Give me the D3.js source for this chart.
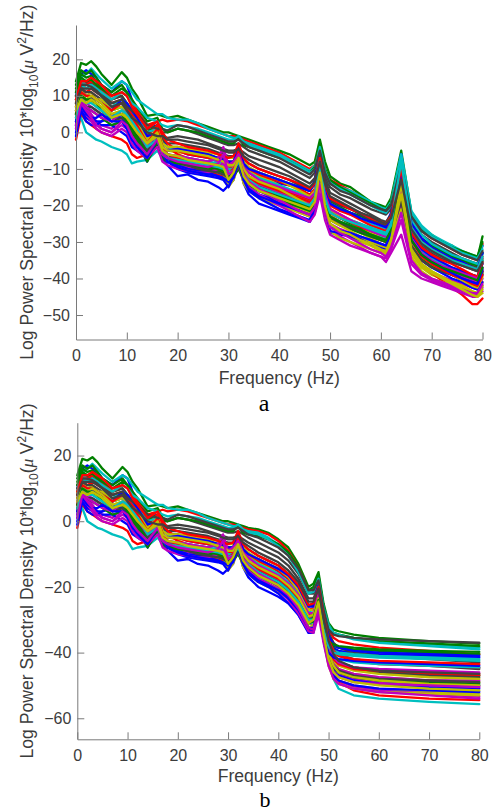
<!DOCTYPE html>
<html><head><meta charset="utf-8">
<script src="https://cdn.jsdelivr.net/npm/d3@7"></script>
<style>body{margin:0;background:#fff}svg{display:block}</style>
</head><body><svg id="c" width="496" height="811"></svg>
<script>
// ---- frequency grids (Hz) ----
const freqLow   = [0,1,2,3,4,5,7,9,10,11,12,14,16,17,18,20,22,24,26,28,29,30,31,32,33,34];
const freqHighA = [36,38,40,42,44,46,47,48,49,50,52,54,56,58,60,61,62,64,66,68,70,72,74,76,78,79,80];
const freqHighB = [36,38,40,42,44,46,47,48,49,50,51,52,55,60,70,80];

// MATLAB classic colour order (b g r c m y k)
const colorOrder = ["#0000ff","#008000","#ff0000","#00bfbf","#bf00bf","#bfbf00","#404040"];

const xTicks  = [0,10,20,30,40,50,60,70,80];
const yTicksA = [-50,-40,-30,-20,-10,0,10,20];
const yTicksB = [-60,-40,-20,0,20];

// ---- channel PSDs, shared 0-34 Hz part (dB) ----
const lowBand = [
[10,16,17,16,15,13,11,14,13,9,6,1,2,-2,-4,-5,-6,-6.5,-7,-8,-8,-9,-9,-5,-9,-11],
[14,19,18.5,19.5,18,16,13,16.5,15,12,10,4.5,5,4.5,4,4.5,3.5,2.5,1.5,0.5,0,0,-0.5,-1,-1.5,-2],
[7,12,13,14,13,11,8,9,8,6,4,1,3,3.5,3,3.5,3,2,1,0,-0.5,-1,-1,-1.5,-2,-2.5],
[8,15,16,17.5,16,14.5,12,14,13,11,9,7,5,5,4,3.5,3.5,2.5,1,0,-0.5,-1,-1.5,-1.5,-2.5,-3],
[3,9,7,5,3,2,1,4,3,0,-2,-5,-1,-5,-6,-7,-7.5,-8,-8,-7,-4.5,-10,-9,-5,-10,-12],
[5,9,8,8.5,7,6,3,4,2,0,-1,-4,-2,-6,-7,-8,-9,-9.5,-10,-10.5,-10,-14,-12,-8,-13,-15],
[9,13,13.5,13,12,11,8,8,6,5,4,1,0,0,0,1,0.5,-0.5,-1.5,-2.5,-3,-3.5,-3.5,-3,-4,-5],
[1,6,4,3,2,2,2,0,-1,-4,-5,-7,-3,-7,-9,-12,-11.5,-13,-13.5,-15,-16,-14.5,-13,-8,-14,-17],
[12,16,15,15.5,14,12,9,10,8,5,3,-2,-1,-6,-7,-7,-7.5,-8.5,-9,-9.5,-10,-11,-11,-9,-12,-13.5],
[-2,5,3,2,1,0,-1,-2,-3,-6,-7,-6,-2,-6,-7,-8,-9,-10,-11,-11.5,-12,-12,-10,-6,-11,-13],
[2,4,0,-1,-2,-2.5,-4,-5,-6,-8.5,-8,-7.5,-5,-7,-7.5,-8.5,-9,-9.5,-10,-11,-11.5,-12,-11.5,-9,-12.5,-14],
[4,8,6,4,3,1,0,2,1,-2,-3,-6,-3,-7,-8,-9,-9.5,-10,-10.5,-9,-7,-12,-11,-8,-12,-14],
[10,12,10,11,9,8,5,6,5,3,2,-2,0,-4,-5,-5.5,-5.5,-6,-6.5,-7,-7.5,-8,-8,-7,-9,-10.5],
[11,14,14,13.5,12.5,11,9,10,8,6,5,2,1,-1,-1.5,-1,-1.5,-2,-3,-4,-4.5,-5,-5,-4.5,-5.5,-6.5],
[2,8,5,4,3,3,4,5,4,1,-1,-6,1,-5,-7,-9,-10,-10.5,-11,-12,-12.5,-13,-11,-6,-12,-15],
[13,17,16,17,15,13,11,13,11,8,6,0,2,-3,-4,-4,-4.5,-5,-6,-7,-7,-8,-8,-6,-9,-10],
[6,12,11,12,11,10,7,8,7,5,3,-1,2,-3,-4,-6,-7,-7.5,-8,-9,-9.5,-10,-9,-5,-10,-12],
[9,14,13,13,12,10,7,9,8,6,4,0,1,-3,-4,-5,-5.5,-6,-7,-8,-8.5,-9,-9,-6.5,-10,-11],
[5,10,8,7,6,5,3,5,4,2,0,-4,0,-5,-6,-7,-8,-8.5,-9,-8,-5,-11,-10,-7,-11,-13],
[8,11,9,9,8,7,4,5,3,1,0,-3,-1,-5,-6,-7,-8,-8.5,-9,-10,-11,-15,-13,-9,-14,-16],
[7,12,11,11,10,9,6,7,6,4,2,-1,-1,-2,-3,-3,-3.5,-4,-4.5,-5.5,-6,-6.5,-6.5,-5.5,-7.5,-8.5],
[-1,6,3,2,2,3,5,4,2,-1,-3,-8,-2,-6,-8,-10,-11,-11.5,-12,-12.5,-13,-15,-12,-7,-13,-16],
[4,9,7,6,5,4,2,3,2,0,-2,-8,-3,-7,-8,-8.5,-9,-9.5,-10,-10.5,-11,-12,-12,-10,-13,-14.5],
[8,13,13,14,13,12,9,11,10,8,6,2,3,-1,-3,-5,-6,-6.5,-7,-7.5,-8,-9,-8,-4,-8,-10],
[6,11,10,10,9,8,6,7,5,3,1,-3,-1,-5,-6,-6.5,-7,-7.5,-8,-8.5,-9,-10,-10,-7.5,-11,-12.5],
[2,7,5,3,1,0,-1,1,0,-3,-5,-7,-4,-8,-9,-10,-10.5,-11,-11,-10,-8,-13,-12,-9,-13,-15],
[9,10,9,10,9,9,6,7,6,4,3,-2,1,-3,-4,-4,-4.5,-5,-5.5,-6,-6.5,-7,-7,-6,-8,-9.5],
[3,8,7,7,6,5,3,4,3,1,-1,-5,-2,-5,-6,-8,-9,-10,-10.5,-11,-11.5,-12.5,-12,-9,-12.5,-14],
[3,10,9,9.5,9,8,6,9,8,6,4,-1,0,-4,-5,-4.5,-5,-5.5,-6,-7,-7.5,-8,-8,-4,-8.5,-10],
[11,15,14,14.5,13,12,10,12,11,9,7,3,4,1,0,1,0.5,0,-1,-2,-2.5,-3,-3,-1.5,-3.5,-4],
[5,11,10,10,9,8,6,8,7,4,2,-3,1,-4,-6,-7,-8,-8.5,-9,-10,-10.5,-11,-10,-5,-10.5,-12.5],
[10,13,12,13,12,11,9,11,10,8,7,4,3,2,1.5,2,1.5,1,0,-1,-1.5,-2,-2,-1,-2.5,-3.5],
[6,9,7,6,5,4,3,6,5,2,0,-3,-1,-5,-6,-6.5,-7,-7.5,-8,-7,-4,-9,-8,-6,-9.5,-11],
[7,10,9,10,9,8,5,6,4,2,1,-3,0,-4,-5,-5,-5.5,-6,-6.5,-7.5,-8,-9,-9,-7,-10,-12],
[10,13,13,12.5,11.5,10,8,9,7,6,5,2,1,1,0.5,2,1.5,0.5,-0.5,-1.5,-2,-2.5,-2.5,-2,-3,-4],
[0,7,5,4,4,5,3,3,1,-2,-4,-7,-2,-6,-8,-9.5,-10.5,-11,-11.5,-12,-12.5,-13.5,-12.5,-8,-13,-15.5],
[5,10,9,9,8,6,4,5,3,1,-1,-6,-2,-6,-7,-8,-8.5,-9,-9.5,-10,-10.5,-11.5,-11,-8,-12,-13.5],
[9,14,14,15,14,13,10,11,10,7,5,1,3,0,-2,-3,-4,-4.5,-5,-6,-6.5,-7,-6.5,-3,-7,-8.5],
[4,9,8,8,7,6,4,6,5,3,1,-4,-2,-6,-7,-7.5,-8,-8.5,-9,-9.5,-10,-11,-10.5,-8,-11.5,-13],
[1,8,6,4,2,1,0,3,2,-1,-3,-6,-2,-6,-7,-8,-8.5,-9,-9.5,-8.5,-6,-11.5,-10.5,-7,-11.5,-13.5],
[6,9,8,9,8,7,4,5,4,2,0,-3,-1,-5,-6,-6.5,-7.5,-8,-8.5,-9,-9.5,-13,-11,-7,-12,-14],
[8,12,12,12,11,10,7,8,6,4,3,0,-1,-1,-2,-2,-2.5,-3,-3.5,-4.5,-5,-5.5,-5.5,-4.5,-6.5,-7.5]
];

// ---- panel a, 36-80 Hz (raw) ----
const highBandA = [
[-12,-13,-14,-14.5,-15,-16,-13,-4,-14,-19,-21,-22,-23,-24,-25,-25,-22,-7,-25,-29,-31,-33,-34,-35,-36,-36,-31],
[-3,-4,-5,-6,-7.5,-9,-8,-2,-8,-12,-14,-15,-17,-19,-20,-20.5,-18,-5,-22,-26,-28,-30,-31,-33,-34,-34.5,-28.5],
[-3.5,-4.5,-5.5,-7,-8.5,-10,-9,-4,-10,-13,-14.5,-16,-17.5,-19.5,-21,-21.5,-19.5,-8,-23,-27,-29,-30.5,-32,-33.5,-34.5,-35,-30.5],
[-4,-5,-6,-7.5,-9,-10.5,-9,-5,-10,-13.5,-15,-16,-17.5,-19,-20.5,-21,-19,-6,-21.5,-25.5,-28,-29.5,-31,-32.5,-33.5,-34,-31],
[-14,-15.5,-17,-18.5,-20,-21.5,-20,-13,-21,-25,-26.5,-27.5,-29,-30.5,-32,-33,-30,-20,-33,-36.5,-38.5,-39.5,-40.5,-41.5,-42.5,-43,-40],
[-17,-18,-19,-20,-21,-22,-20,-12,-21,-26,-27.5,-28.5,-30,-31,-32.5,-33,-30,-15,-33,-37,-39,-40,-41.5,-42.5,-44,-44.5,-42],
[-6,-7,-8,-9.5,-11,-12.5,-11,-6,-12,-15,-17,-18,-19.5,-21,-22,-22.5,-21,-10,-24,-28,-30,-31.5,-33,-34.5,-35.5,-36,-33],
[-19.5,-20.5,-21.5,-22.5,-23.5,-24.5,-22,-15,-23,-27.5,-28,-28.5,-29.5,-30,-31,-31.5,-28,-16,-30,-34,-36,-37.5,-39,-40.5,-42,-42.5,-39],
[-15,-16,-17,-18,-19,-20,-18,-9,-18,-22,-23.5,-25,-26,-27,-28.5,-29,-26,-12,-29,-33,-35,-36,-37,-38,-39,-39.5,-35],
[-15.5,-16.5,-17.5,-18.5,-19.5,-20.5,-19,-11,-19,-24,-25,-26,-27.5,-28.5,-29.5,-30,-27,-16,-31,-36,-38.5,-40.5,-42.5,-44.5,-47,-47,-45.5],
[-16,-17,-18,-19,-20,-21,-19.5,-8,-19,-23,-24.5,-25.5,-26.5,-27.5,-28.5,-29,-26.5,-11,-28,-32.5,-34.5,-36,-37.5,-39,-40,-40.5,-37],
[-16,-17.5,-19,-20.5,-22,-23,-21,-16,-23,-27,-28.5,-30,-31.5,-33,-34,-35.5,-33,-28,-38,-40,-41,-42,-43,-44,-45,-45,-43.5],
[-12,-13,-14.5,-16,-17.5,-19,-17,-11,-18,-22.5,-24.5,-26,-27.5,-29,-30.5,-31,-28,-18,-32,-36,-38,-39.5,-41,-42,-43.5,-44,-41],
[-7.5,-8.5,-9.5,-11,-12.5,-14,-12.5,-7,-13,-16.5,-18,-19.5,-21,-22.5,-24,-24.5,-22.5,-12,-26,-29.5,-31.5,-33,-34.5,-35.5,-36.5,-37,-34.5],
[-17,-18,-19.5,-20.5,-21.5,-23,-20,-10,-20,-26,-27,-27.5,-28.5,-29.5,-30.5,-31,-27,-9,-28,-32,-34,-35.5,-37,-38,-39,-39.5,-36],
[-11,-12,-13,-14,-15,-16,-14,-6,-15,-19,-20.5,-22,-23,-24,-25,-25.5,-23,-9,-25,-29,-31,-32.5,-34,-35,-36,-36.5,-33],
[-13.5,-14.5,-15.5,-16.5,-17.5,-18.5,-17,-10,-17,-21,-22.5,-24,-25,-26.5,-27.5,-28,-26,-14,-29,-33.5,-36,-37.5,-39,-40.5,-41.5,-42,-38],
[-12.5,-13.5,-14.5,-15.5,-16.5,-17.5,-15.5,-7,-16,-19.5,-21,-22.5,-23.5,-25,-26,-26.5,-24,-7,-24,-28,-30.5,-32,-33.5,-34.5,-35.5,-36,-33.5],
[-14.5,-15.5,-16.5,-17.5,-18.5,-19.5,-18,-12,-19,-23,-24.5,-26,-27,-28.5,-29.5,-30,-27.5,-17,-30,-34,-36,-37.5,-38.5,-39.5,-40.5,-41,-38],
[-18,-19,-20,-21,-22,-23,-21,-14,-22,-27,-29,-30,-31,-32,-33,-33.5,-30,-21,-34,-38,-40,-41,-42,-43,-44.5,-45,-44],
[-10,-11,-12,-13,-14.5,-15.5,-14,-8,-14.5,-18.5,-20,-21,-22.5,-24,-25,-25.5,-24,-13,-27,-31,-33,-34.5,-35.5,-36.5,-37.5,-38,-36],
[-18,-19.5,-21,-22,-23,-24,-21,-12,-21,-27,-27.5,-28,-29,-30.5,-31.5,-32,-28.5,-13,-31,-35,-37,-38.5,-40,-41,-42.5,-43,-41],
[-16,-17,-18.5,-19.5,-20.5,-21.5,-19.5,-11,-19.5,-24,-25.5,-26.5,-27.5,-28.5,-29.5,-30,-27,-14,-30.5,-34.5,-36.5,-38,-39,-40,-41.5,-42,-38.5],
[-11.5,-12.5,-13.5,-14.5,-15.5,-17,-15.5,-8,-16,-20,-21.5,-22.5,-24,-25.5,-26.5,-27,-25,-11,-27.5,-31.5,-33.5,-35,-36,-37.5,-39,-39.5,-35.5],
[-14,-15,-16,-17,-18,-19,-17,-9,-17.5,-21.5,-23,-24,-25,-26,-27,-27.5,-25,-10,-26.5,-30.5,-32.5,-34,-35,-36,-37,-37.5,-35],
[-17,-18.5,-20,-21.5,-23,-24.5,-22.5,-17,-24,-28,-29.5,-31,-32,-33,-34,-34.5,-32,-24,-36,-39,-40.5,-41.5,-42.5,-43.5,-44.5,-44.5,-42.5],
[-11,-12,-13,-14.5,-16,-17.5,-16,-10,-17,-21,-23,-24.5,-26,-27.5,-29,-29.5,-27,-15,-30,-34,-36,-37.5,-39,-40.5,-42,-42.5,-39.5],
[-15,-16,-17,-18,-19,-20,-18.5,-13,-19.5,-23.5,-25,-26,-27,-28,-29,-29.5,-27.5,-19,-31,-35,-37,-38,-39,-40,-41,-41.5,-38],
[-11,-12,-13,-14,-15,-16,-14,-5,-15,-19.5,-21,-22,-23.5,-24.5,-25.5,-26,-23,-6,-25,-29,-31.5,-33,-34.5,-35.5,-37,-37.5,-33],
[-5,-6,-7,-8,-9.5,-11,-9.5,-3,-10,-13,-15,-16.5,-18,-19.5,-21,-21.5,-19.5,-7,-22.5,-26.5,-28.5,-30,-31.5,-32.5,-33.5,-34,-30],
[-14,-15,-16,-17,-18,-19,-17.5,-11,-18,-22,-23.5,-24.5,-26,-27,-28,-28.5,-26.5,-15,-29.5,-34,-36,-37.5,-39,-40,-41.5,-42,-39],
[-4.5,-5.5,-6.5,-8,-9.5,-11,-10,-4,-10.5,-14,-15.5,-17,-18.5,-20,-21.5,-22,-20,-6,-22,-26,-28.5,-30,-31.5,-33,-34,-34.5,-32],
[-13,-14,-15,-16,-17,-18,-16.5,-10,-17,-21,-22.5,-24,-25.5,-27,-28,-28.5,-26,-15,-29,-33,-35,-36.5,-37.5,-38.5,-39.5,-40,-37],
[-13.5,-14.5,-15.5,-17,-18.5,-20,-18,-12,-19,-24,-25.5,-27,-28.5,-30,-31,-31.5,-29,-17,-32,-36,-38,-39.5,-41,-42,-43.5,-44,-42],
[-5,-6,-7,-8.5,-10,-11.5,-10,-5,-11,-14,-16,-17,-18.5,-20,-21,-21.5,-20,-9,-23,-27,-29,-30.5,-32,-33.5,-34.5,-35,-32.5],
[-17.5,-18.5,-19.5,-20.5,-21.5,-22.5,-20.5,-12,-21,-26,-27,-27.5,-28.5,-29.5,-30.5,-31,-27.5,-11,-29.5,-33.5,-35.5,-37,-38.5,-40,-41,-41.5,-37.5],
[-15,-16,-17.5,-18.5,-19.5,-20.5,-19,-10,-19,-23,-24.5,-25.5,-26.5,-28,-29,-29.5,-26.5,-13,-29.5,-33.5,-35.5,-37,-38,-39,-40,-40.5,-37],
[-10,-11,-12,-13,-14,-15.5,-14,-7,-14.5,-18,-19.5,-21,-22,-23.5,-24.5,-25,-23,-10,-26,-30,-32,-33.5,-35,-36,-37,-37.5,-34],
[-15,-16,-17,-18,-19,-20,-18,-8,-18,-22,-23.5,-24.5,-25.5,-26.5,-27.5,-28,-25.5,-8,-26,-30,-32,-33.5,-35,-36,-37,-37.5,-34],
[-15.5,-17,-18.5,-20,-21.5,-22.5,-20.5,-14,-21.5,-26,-27.5,-29,-30.5,-32,-33,-34,-31.5,-22,-35,-38.5,-40,-41,-42,-43,-44,-44,-41.5],
[-16,-17,-18,-19,-20,-21,-19,-11,-20,-25,-27,-28,-29.5,-30.5,-32,-32.5,-29.5,-14,-32.5,-36.5,-38.5,-40,-41.5,-43,-44.5,-45,-43],
[-9,-10,-11,-12,-13.5,-15,-13.5,-8,-14,-17.5,-19,-20.5,-22,-23,-24.5,-25,-23.5,-13,-26.5,-30.5,-32.5,-34,-35.5,-36.5,-37.5,-38,-35.5]
];

// ---- panel b, 36-80 Hz (filtered) ----
const highBandB = [
[-12.5,-14,-15.5,-17.5,-21,-26,-25,-20,-30,-36,-38.5,-39.5,-40,-40.5,-41,-41.5],
[-2.5,-3.5,-5.5,-8,-13,-20,-19,-15.5,-25,-31,-33,-33.5,-34.5,-35.5,-36.5,-37.3],
[-3,-4,-6,-9,-14,-21,-21,-18,-27,-33,-35.5,-36.5,-37.5,-38.5,-39.5,-40.5],
[-3.5,-5,-7,-10,-15,-21.5,-20.5,-17,-26,-31.5,-34,-34.5,-35.5,-36.5,-37.5,-38.5],
[-14.5,-16,-18,-20.5,-24.5,-31,-31.5,-25,-34,-41,-45,-46.5,-48,-49,-50,-50.5],
[-17.5,-19,-20.5,-22.5,-26,-31.5,-30,-25,-35,-43,-47,-48.5,-50,-51,-52,-52.5],
[-6.5,-8,-9.5,-12,-16,-22,-22,-19,-28,-34,-37,-38.5,-40,-41,-42,-43],
[-20,-21.5,-23,-25,-28.5,-33.5,-33,-27,-36,-43.5,-46,-47,-48.5,-49.5,-50.5,-51],
[-15.5,-17,-18.5,-20.5,-24,-29.5,-28.5,-23,-32,-39,-42,-43,-44.5,-45.5,-46.5,-47],
[-16,-17.5,-19,-21.5,-25,-30.5,-30,-24,-34,-41.5,-46,-49,-51.5,-53,-54,-54.5],
[-16.5,-18,-19.5,-22,-25.5,-31,-31,-26,-35,-43,-48,-51,-53,-54,-55,-55.7],
[-16.5,-18,-20,-23,-27,-33,-33.5,-27,-36,-43,-47,-48.5,-50.5,-51.5,-52.5,-53.5],
[-12.5,-14,-16,-19,-23,-29,-28,-23,-32,-39,-43,-45,-46.5,-47.5,-48.5,-49],
[-8,-9.5,-11,-13.5,-17.5,-23.5,-23.5,-20,-29,-35.5,-39,-40.5,-42,-43,-44,-45],
[-17.5,-19,-21,-23.5,-27,-33,-33,-25.5,-35,-42,-45,-46,-47.5,-48.5,-49.5,-50],
[-11.5,-13,-14.5,-16.5,-20,-26,-25,-20,-29,-35.5,-38,-38.5,-39,-39.5,-40,-40.5],
[-14,-15.5,-17,-19.5,-23,-28.5,-28,-22,-31,-38,-41.5,-43,-44.5,-45.5,-46.5,-47],
[-13,-14.5,-16,-18.5,-22,-27.5,-27,-21.5,-30,-37,-39.5,-40,-40.5,-41,-41.5,-42],
[-15,-16.5,-18,-20.5,-24,-29.5,-29.5,-23.5,-33,-40,-43.5,-45,-46.5,-47.5,-48.5,-48.5],
[-18.5,-20,-21.5,-23.5,-27,-32.5,-31.5,-26,-36,-44,-48,-49.5,-51,-52,-52.5,-53],
[-10.5,-12,-13.5,-16,-19.5,-25.5,-25.5,-21,-30,-37,-41,-43,-45,-46,-47,-47.5],
[-18.5,-20,-22,-25,-28.5,-34,-34,-26,-36,-43,-47,-48.5,-50,-51,-51.5,-52],
[-16.5,-18,-19.5,-22,-25.5,-31,-30.5,-25,-34,-41,-44.5,-46,-47.5,-48.5,-49,-49.5],
[-12,-13.5,-15,-17.5,-21,-27,-26.5,-21,-30,-37,-40,-41,-42.5,-43.5,-44,-44.5],
[-14.5,-16,-17.5,-20,-23.5,-29,-28.5,-23,-31.5,-38,-41,-42,-43,-43.5,-44,-44.5],
[-17.5,-19,-21,-24,-28,-33.5,-34,-28.5,-37,-44,-48,-49.5,-51,-52,-53,-54],
[-11.5,-13,-14.5,-17,-21,-27,-27,-22.5,-31,-38,-42,-44,-45.5,-46.5,-47.5,-48],
[-15.5,-17,-18.5,-21,-24.5,-30,-30,-25,-33.5,-40.5,-44,-45.5,-47,-48,-48.5,-49],
[-11.5,-13,-14.5,-16.5,-20,-26,-26,-19,-29,-35,-37.5,-38.5,-39.5,-40,-40.5,-41],
[-4.5,-5.5,-7,-9.5,-14,-21,-20,-16.5,-26,-32,-34,-34.5,-35.5,-36.5,-37.2,-38],
[-14.5,-16,-17.5,-20,-23.5,-29,-28.5,-23,-32,-38.5,-42,-43.5,-45,-45.5,-46,-46.5],
[-4,-5.5,-7.5,-10.5,-15.5,-22,-21.5,-17.5,-26.5,-32,-34,-34.5,-36,-37,-38,-39],
[-13.5,-15,-16.5,-19,-22.5,-28,-28,-22,-31,-38,-41.5,-43,-44.5,-45,-45.5,-46],
[-14,-15.5,-17,-19.5,-23,-29,-28.5,-23.5,-33,-40,-44,-46,-47.5,-48.5,-49.5,-50],
[-5,-6.5,-8,-10.5,-14.5,-21,-21,-18,-27,-33,-34.5,-35,-35.5,-36,-36.5,-37],
[-18,-19.5,-21,-23.5,-27,-32.5,-32.5,-26,-35,-40,-41.5,-42,-42.5,-43,-43.5,-44],
[-15.5,-17,-18.5,-21,-24.5,-30,-29.5,-24,-32,-36.5,-37.5,-38,-38.5,-39,-39.5,-39.8],
[-10.5,-12,-13.5,-16,-19.5,-25.5,-25,-20,-29,-36,-39.5,-41,-42,-42.5,-43,-43.5],
[-15.5,-17,-18.5,-21,-24.5,-30,-30,-25,-33,-38,-40,-40.5,-41,-41.5,-42,-42.5],
[-16,-17.5,-19.5,-22.5,-26.5,-32.5,-33,-26.5,-35.5,-42.5,-46,-47.5,-49,-49.5,-50,-50.5],
[-16.5,-18,-19.5,-22,-25.5,-31,-30,-24.5,-34.5,-42,-46,-47.5,-49,-50,-51,-51.5],
[-9.5,-11,-12.5,-15,-18.5,-24.5,-24.5,-20.5,-29.5,-36.5,-40.5,-42.5,-44.5,-45.5,-46,-46.5]
];

// ---- drawing ----
const svg = d3.select("#c");
const FONT = "'Liberation Sans', Arial, Helvetica, sans-serif";
const SERIF = "'Liberation Serif', 'Times New Roman', serif";
const AXIS = "#7a7a7a", TXT = "#3c3c3c";

function pairs(xs, ys){ return xs.map((f,i)=>[f, ys[i]]); }

function drawPanel(o){
  const x = d3.scaleLinear().domain([0,80]).range([o.left, o.right]);
  const y = d3.scaleLinear().domain(o.yDomain).range([o.bottom, o.top]);
  const g = svg.append("g");

  const line = d3.line().x(d=>x(d[0])).y(d=>y(d[1]));
  lowBand.forEach((lv, i) => {
    const pts = pairs(freqLow, lv).concat(pairs(o.highFreq, o.high[i]));
    g.append("path").attr("d", line(pts))
      .attr("fill","none").attr("stroke", colorOrder[i % colorOrder.length])
      .attr("stroke-width", 2.3).attr("stroke-linejoin","round").attr("stroke-linecap","round");
  });

  const ax = g.append("g").attr("transform", `translate(0,${o.bottom})`)
    .call(d3.axisBottom(x).tickValues(xTicks).tickSizeInner(-7).tickSizeOuter(0).tickPadding(10.5));
  const ay = g.append("g").attr("transform", `translate(${o.left},0)`)
    .call(d3.axisLeft(y).tickValues(o.yTicks).tickSizeInner(-7).tickSizeOuter(0).tickPadding(6));
  [ax, ay].forEach(a => {
    a.selectAll("path,line").attr("stroke", AXIS).attr("stroke-width", 1);
    a.selectAll("text").attr("fill", TXT).style("font-family", FONT).style("font-size","16px");
  });

  g.append("text").attr("x", (o.left+o.right)/2).attr("y", o.xLabelY)
    .attr("text-anchor","middle").attr("fill", TXT)
    .style("font-family", FONT).style("font-size","17.6px").text("Frequency (Hz)");

  const cy = (o.top + o.bottom)/2;
  const t = g.append("text").attr("transform", `translate(${o.yLabelX},${cy}) rotate(-90)`)
    .attr("text-anchor","middle").attr("fill", TXT)
    .style("font-family", FONT).style("font-size","17.6px");
  t.append("tspan").text("Log Power Spectral Density 10*log");
  t.append("tspan").attr("dy", 4.5).style("font-size","12px").text("10");
  t.append("tspan").attr("dy", -4.5).text("(");
  t.append("tspan").style("font-family", SERIF).style("font-style","italic").text("\u03bc ");
  t.append("tspan").text("V");
  t.append("tspan").attr("dy", -7.5).style("font-size","12px").text("2");
  t.append("tspan").attr("dy", 7.5).text("/Hz)");

  g.append("text").attr("x", o.letterX).attr("y", o.letterY).attr("text-anchor","middle")
    .attr("fill","#000").style("font-family", SERIF)
    .style("font-size", o.letterSize).text(o.letter);
}

drawPanel({left:76, right:482.5, top:25, bottom:339.5, yDomain:[-56.7,29.4], yTicks:yTicksA,
  high:highBandA, highFreq:freqHighA, xLabelY:384, yLabelX:33, letter:"a", letterX:264, letterY:411, letterSize:"24px"});
drawPanel({left:77.3, right:479.3, top:422.7, bottom:739.3, yDomain:[-66.4,30], yTicks:yTicksB,
  high:highBandB, highFreq:freqHighB, xLabelY:782, yLabelX:33, letter:"b", letterX:265, letterY:807, letterSize:"22px"});
</script></body></html>
